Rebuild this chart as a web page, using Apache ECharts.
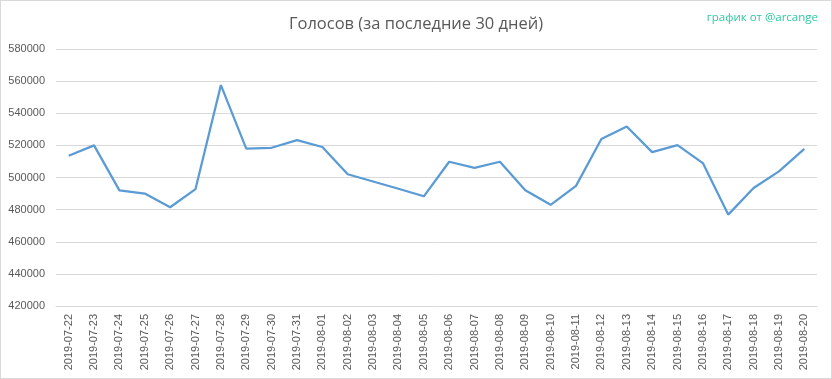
<!DOCTYPE html>
<html>
<head>
<meta charset="utf-8">
<script src="https://cdn.jsdelivr.net/npm/echarts@6/dist/echarts.min.js"></script>
<style>
html,body{margin:0;padding:0;background:#fff;}
#wrap{position:absolute;left:0;top:0;width:830px;height:377px;border:1px solid #d9d9d9;}
#chart{width:830px;height:377px;}
</style>
</head>
<body>
<div id="wrap"><div id="chart"></div></div>
<script>
const categories = ["2019-07-22","2019-07-23","2019-07-24","2019-07-25","2019-07-26","2019-07-27","2019-07-28","2019-07-29","2019-07-30","2019-07-31","2019-08-01","2019-08-02","2019-08-03","2019-08-04","2019-08-05","2019-08-06","2019-08-07","2019-08-08","2019-08-09","2019-08-10","2019-08-11","2019-08-12","2019-08-13","2019-08-14","2019-08-15","2019-08-16","2019-08-17","2019-08-18","2019-08-19","2019-08-20"];
const votes = [513500,520000,492000,490000,481500,492800,557500,518000,518500,523300,519000,502000,497500,493000,488300,509800,506000,509800,492000,483000,494800,524000,531800,515800,520200,509000,476900,493500,503800,517800];
const titleText = "Голосов (за последние 30 дней)";
const creditText = "график от @arcange";

const chart = echarts.init(document.getElementById('chart'));
chart.setOption({
  animation: false,
  backgroundColor: '#ffffff',
  title: [
    {text: titleText, left: 'center', top: 10,
     textStyle: {fontFamily: 'Open Sans', fontWeight: 'normal', fontSize: 16.5, color: '#595959'}},
    {text: creditText, right: 8, top: 6,
     textStyle: {fontFamily: 'Open Sans', fontWeight: 'normal', fontSize: 11.5, color: '#2cc9a0'}}
  ],
  grid: {left: 55, right: 14, top: 48, bottom: 72, containLabel: false},
  xAxis: {
    type: 'category', data: categories, boundaryGap: true,
    axisLine: {show: true, lineStyle: {color: '#d9d9d9'}},
    axisTick: {show: false},
    axisLabel: {rotate: 90, interval: 0, fontFamily: 'Liberation Sans', fontSize: 11, color: '#595959', margin: 8}
  },
  yAxis: {
    type: 'value', min: 420000, max: 580000, interval: 20000,
    axisLine: {show: false}, axisTick: {show: false},
    splitLine: {lineStyle: {color: '#d9d9d9', width: 1}},
    axisLabel: {fontFamily: 'Liberation Sans', fontSize: 11, color: '#595959', margin: 11,
      formatter: function (v) { return String(v); }}
  },
  series: [{
    type: 'line', data: votes, symbol: 'none', smooth: false,
    lineStyle: {color: '#5b9bd5', width: 2.25}
  }]
});
</script>
</body>
</html>
